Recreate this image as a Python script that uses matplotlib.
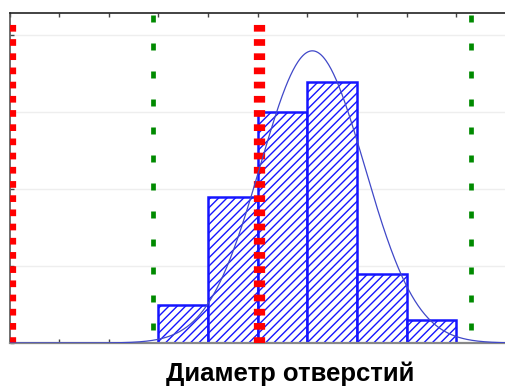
import numpy as np
import matplotlib
matplotlib.use("Agg")
import matplotlib.pyplot as plt

# Data (x in arbitrary axis units, one unit per tick)
bin_edges = [3, 4, 5, 6, 7, 8, 9]
counts = [5, 19, 30, 34, 9, 3]
fit_mean = 6.1
fit_sigma = 1.05
spec_limits = [0.02, 5.02]      # red dashed lines
control_limits = [2.89, 9.30]   # green dotted lines
x_ticks = list(range(0, 11))
y_ticks = [0, 10, 20, 30, 40]

plt.rcParams['lines.scale_dashes'] = False
plt.rcParams['hatch.linewidth'] = 1.0
plt.rcParams['hatch.color'] = '#2a2aff'

W, H = 505, 387
fig = plt.figure(figsize=(W / 100, H / 100), dpi=100)
left, right, top, bottom = 9.5, 506, 13.3, 343
ax = fig.add_axes([left / W, 1 - bottom / H, (right - left) / W, (bottom - top) / H])

ax.set_xlim(0, (right - left) / 50.4)
ax.set_ylim(0, (bottom - top) / 7.69)

# grid
ax.set_yticks(y_ticks)
ax.set_xticks(x_ticks)
ax.grid(axis='y', color='#eeeeee', lw=1)
ax.set_axisbelow(True)

# histogram bars
widths = np.diff(bin_edges)
ax.bar(bin_edges[:-1], counts, width=widths, align='edge',
       facecolor='white', edgecolor='#1515ff', hatch='////', lw=1.8, zorder=2)

# fitted normal curve
xs = np.linspace(0, 10, 600)
n = sum(counts)
bw = widths[0]
ys = n * bw / (fit_sigma * np.sqrt(2 * np.pi)) * np.exp(-0.5 * ((xs - fit_mean) / fit_sigma) ** 2)
ax.plot(xs, ys, color='#4048c8', lw=0.9, zorder=4)

# spec limits (red)
for xv in spec_limits:
    ax.axvline(xv, ymax=0.98, color='#ff0000', lw=8.1, linestyle=(0.3, (4.82, 5.4)),
               dash_capstyle='butt', zorder=3)
# control limits (green)
for xv in control_limits:
    ax.axvline(xv, color='#008a00', lw=3.4, linestyle=(10.8, (5.04, 15.12)),
               dash_capstyle='butt', zorder=3)

ax.tick_params(direction='in', length=3, width=1, color='#444444',
               top=True, bottom=True, left=True, right=False,
               labelbottom=False, labelleft=False)
ax.spines['right'].set_visible(False)
ax.spines['top'].set_color('#222222')
ax.spines['top'].set_linewidth(1.2)
ax.spines['left'].set_color('#555555')
ax.spines['left'].set_linewidth(1.2)
ax.spines['bottom'].set_color('#888888')
ax.spines['bottom'].set_linewidth(1.6)

fig.text(290 / W, 1 - 381 / H, 'Диаметр отверстий', ha='center', va='baseline',
         fontsize=18.5, fontweight='bold', family=['Liberation Sans', 'DejaVu Sans'])

fig.savefig('out.png', dpi=100)
